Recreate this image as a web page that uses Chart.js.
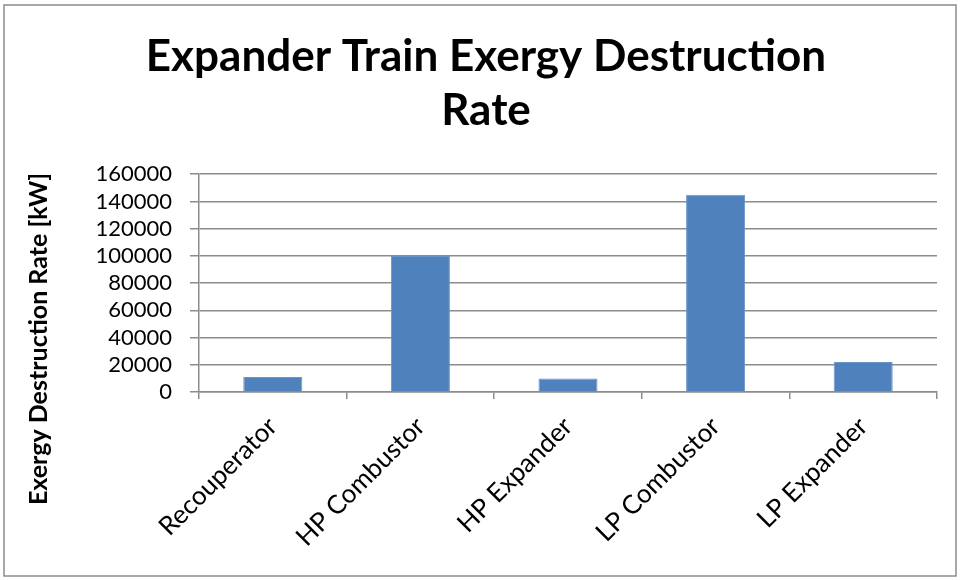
<!DOCTYPE html>
<html>
<head>
<meta charset="utf-8">
<script src="https://cdn.jsdelivr.net/npm/chart.js@4/dist/chart.umd.min.js"></script>
<style>
  body { margin: 0; background: #fff; }
  #wrap { position: absolute; left: 0; top: 0; width: 960px; height: 580px; }
</style>
</head>
<body>
<div id="wrap"><canvas id="chart" width="960" height="580"></canvas></div>
<script>
  const categories = ['Recouperator', 'HP Combustor', 'HP Expander', 'LP Combustor', 'LP Expander'];
  const exergyValues = [11000, 100000, 10000, 145000, 22000];
  const yTicks = [0, 20000, 40000, 60000, 80000, 100000, 120000, 140000, 160000];

  const fontFamily = 'Lato, "Open Sans", sans-serif';
  const gridColor = '#8c8c8c';

  // frame round the whole picture and the rotated y-axis title
  const decorations = {
    id: 'decorations',
    beforeDraw(chart) {
      const ctx = chart.ctx;
      ctx.save();
      ctx.fillStyle = '#fff';
      ctx.fillRect(0, 0, chart.width, chart.height);
      ctx.strokeStyle = '#8c8c8c';
      ctx.lineWidth = 1.5;
      ctx.strokeRect(4, 5, chart.width - 8, chart.height - 9);
      ctx.restore();
    },
    afterDraw(chart) {
      const ctx = chart.ctx;
      ctx.save();
      ctx.translate(39, 339);
      ctx.rotate(-Math.PI / 2);
      ctx.font = 'bold 25px ' + fontFamily;
      ctx.fillStyle = '#000';
      ctx.textAlign = 'center';
      ctx.textBaseline = 'middle';
      ctx.fillText('Exergy Destruction Rate [kW]', 0, 0);
      ctx.restore();
    }
  };

  new Chart(document.getElementById('chart').getContext('2d'), {
    type: 'bar',
    data: {
      labels: categories,
      datasets: [{
        label: 'Exergy Destruction Rate',
        data: exergyValues,
        backgroundColor: '#4F81BD',
        borderColor: '#6a95c9',
        borderWidth: 1,
        categoryPercentage: 1,
        barPercentage: 0.4
      }]
    },
    options: {
      responsive: false,
      animation: false,
      layout: { padding: { left: 35, right: 23, top: 0, bottom: 10 } },
      plugins: {
        legend: { display: false },
        tooltip: { enabled: false },
        title: {
          display: true,
          text: ['Expander Train Exergy Destruction', 'Rate'],
          color: '#000',
          font: { family: fontFamily, size: 44, weight: 'bold', lineHeight: 1.23 },
          padding: { top: 30, bottom: 36 }
        }
      },
      scales: {
        x: {
          afterFit(scale) { scale.height = 178; },
          grid: { display: true, drawOnChartArea: false, drawTicks: true, tickLength: 7, color: gridColor, lineWidth: 1.5, offset: true },
          border: { display: true, color: gridColor, width: 1.5 },
          ticks: {
            color: '#000',
            font: { family: fontFamily, size: 26 },
            maxRotation: 45,
            minRotation: 45,
            autoSkip: false,
            padding: 12
          }
        },
        y: {
          min: 0,
          max: 160000,
          afterFit(scale) { scale.width = 164; },
          afterBuildTicks(scale) {
            scale.ticks = yTicks.map(v => ({ value: v }));
          },
          grid: { color: gridColor, lineWidth: 1.5, drawTicks: true, tickLength: 9 },
          border: { display: true, color: gridColor, width: 1.5 },
          ticks: {
            color: '#000',
            font: { family: fontFamily, size: 22 },
            padding: 18,
            autoSkip: false,
            callback: v => String(v)
          }
        }
      }
    },
    plugins: [decorations]
  });
</script>
</body>
</html>
